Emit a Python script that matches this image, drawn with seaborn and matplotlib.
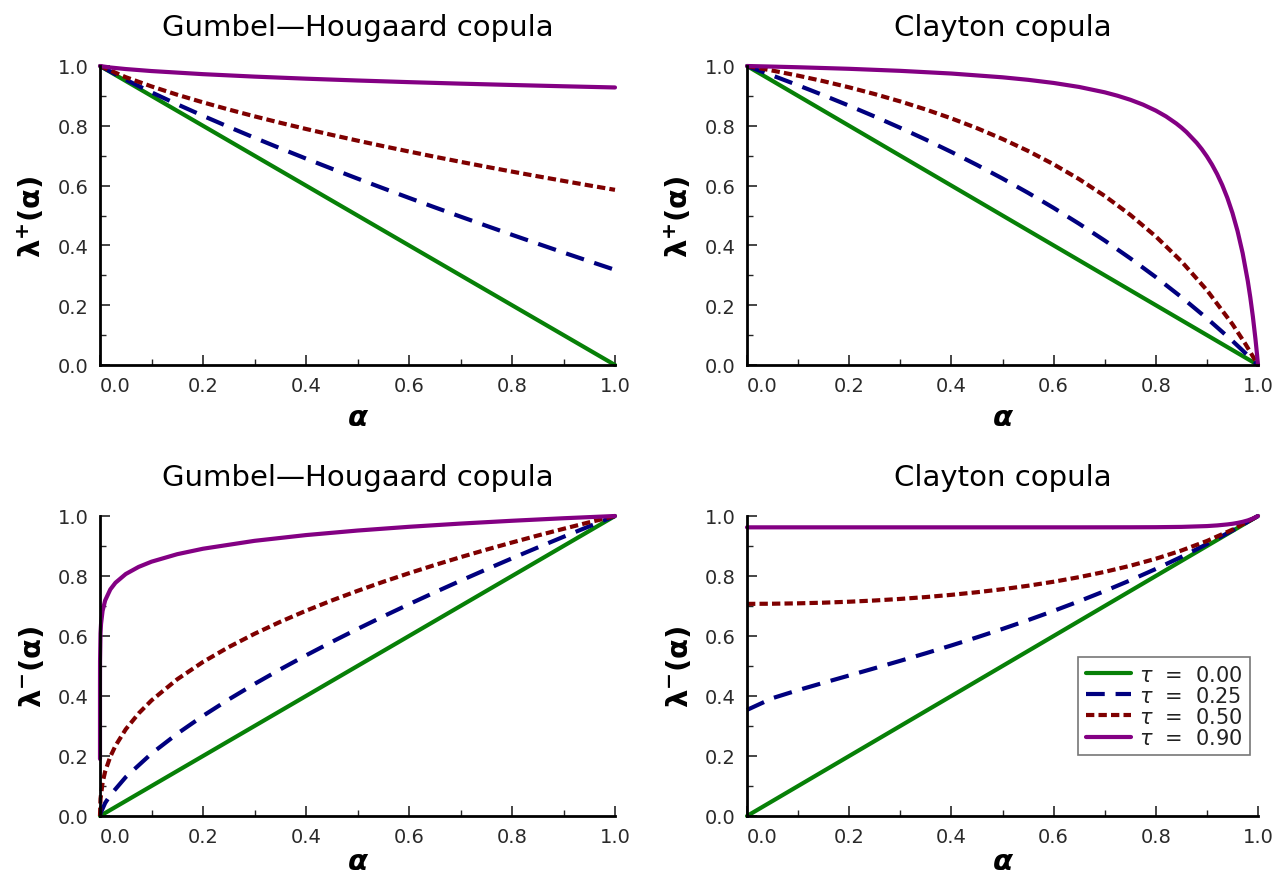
import matplotlib
matplotlib.use('Agg')
import matplotlib.pyplot as plt
import seaborn as sns

sns.set_style('ticks')
plt.rcParams['font.family'] = ['DejaVu Sans']
plt.rcParams['mathtext.fontset'] = 'dejavusans'

# ---------------- data ----------------
tau_labels = ['0.00', '0.25', '0.50', '0.90']
line_x = [0.0, 1.0]

# Gumbel-Hougaard, upper (top-left)
tl_x = [0.0, 0.05, 0.1, 0.15, 0.2, 0.25, 0.3, 0.35, 0.4, 0.45, 0.5,
        0.55, 0.6, 0.65, 0.7, 0.75, 0.8, 0.85, 0.9, 0.95, 1.0]
tl_t000 = [1.0, 0.0]
tl_t025 = [1.0, 0.9542, 0.9120, 0.8719, 0.8334, 0.7962, 0.7600, 0.7248, 0.6903, 0.6565, 0.6234,
           0.5910, 0.5589, 0.5273, 0.4963, 0.4657, 0.4354, 0.4057, 0.3761, 0.3470, 0.3182]
tl_t050 = [1.0, 0.9626, 0.9317, 0.9039, 0.8784, 0.8544, 0.8317, 0.8101, 0.7894, 0.7696, 0.7504,
           0.7319, 0.7140, 0.6965, 0.6795, 0.6630, 0.6468, 0.6311, 0.6157, 0.6006, 0.5858]
tl_x090 = [0.0, 0.02, 0.05, 0.1, 0.2, 0.3, 0.4, 0.5, 0.6, 0.7, 0.8, 0.9, 1.0]
tl_t090 = [1.0, 0.9950, 0.9898, 0.9831, 0.9727, 0.9645, 0.9576, 0.9515, 0.9460, 0.9410, 0.9365, 0.9322, 0.9282]

# Clayton, upper (top-right)
tr_x = tl_x
tr_t000 = [1.0, 0.0]
tr_t025 = [1.0, 0.9681, 0.9355, 0.9019, 0.8671, 0.8309, 0.7931, 0.7537, 0.7124, 0.6691, 0.6236,
           0.5758, 0.5254, 0.4723, 0.4162, 0.3568, 0.2940, 0.2272, 0.1562, 0.0806, 0.0]
tr_x050 = [0.0, 0.05, 0.1, 0.15, 0.2, 0.25, 0.3, 0.35, 0.4, 0.45, 0.5,
           0.55, 0.6, 0.65, 0.7, 0.75, 0.8, 0.85, 0.9, 0.95, 0.975, 1.0]
tr_t050 = [1.0, 0.9846, 0.9677, 0.9490, 0.9286, 0.9061, 0.8815, 0.8545, 0.8248, 0.7921, 0.7559,
           0.7159, 0.6713, 0.6215, 0.5655, 0.5022, 0.4300, 0.3469, 0.2503, 0.1365, 0.0714, 0.0]
tr_x090 = [0.0, 0.05, 0.1, 0.2, 0.3, 0.4, 0.5, 0.55, 0.6, 0.65, 0.7, 0.725, 0.75, 0.775,
           0.8, 0.82, 0.84, 0.85, 0.86, 0.88, 0.89, 0.9, 0.91, 0.92, 0.93, 0.94, 0.95,
           0.96, 0.97, 0.98, 0.985, 0.99, 0.995, 0.998, 0.999, 1.0]
tr_t090 = [1.0, 0.9980, 0.9958, 0.9906, 0.9838, 0.9748, 0.9622, 0.9538, 0.9433, 0.9299, 0.9120, 0.9006, 0.8871, 0.8708,
           0.8508, 0.8314, 0.8078, 0.7942, 0.7790, 0.7431, 0.7218, 0.6976, 0.6701, 0.6385, 0.6019, 0.5591, 0.5085,
           0.4478, 0.3737, 0.2810, 0.2252, 0.1613, 0.0872, 0.0367, 0.0184, 0.0]

# Gumbel-Hougaard, lower (bottom-left)
bl_t000 = [0.0, 1.0]
bl_x025 = [0.0, 0.001, 0.01, 0.02, 0.05, 0.1, 0.15, 0.2, 0.25, 0.3, 0.35, 0.4, 0.45, 0.5,
           0.55, 0.6, 0.65, 0.7, 0.75, 0.8, 0.85, 0.9, 0.95, 1.0]
bl_t025 = [0.0, 0.0090, 0.0433, 0.0695, 0.1297, 0.2081, 0.2743, 0.3338, 0.3886, 0.4401, 0.4888, 0.5354, 0.5802, 0.6234,
           0.6653, 0.7059, 0.7455, 0.7841, 0.8219, 0.8589, 0.8951, 0.9307, 0.9656, 1.0]
bl_x050 = [0.0, 0.001, 0.005, 0.01, 0.02, 0.03, 0.05, 0.075, 0.1, 0.15, 0.2, 0.25, 0.3, 0.35, 0.4,
           0.45, 0.5, 0.55, 0.6, 0.65, 0.7, 0.75, 0.8, 0.85, 0.9, 0.95, 1.0]
bl_t050 = [0.0, 0.0572, 0.1114, 0.1484, 0.1978, 0.2340, 0.2891, 0.3420, 0.3853, 0.4558, 0.5135, 0.5631, 0.6073, 0.6473, 0.6842,
           0.7184, 0.7504, 0.7807, 0.8093, 0.8366, 0.8627, 0.8877, 0.9117, 0.9349, 0.9573, 0.9790, 1.0]
bl_x090 = [0.0, 1e-6, 1e-5, 1e-4, 0.001, 0.002, 0.005, 0.01, 0.02, 0.03, 0.05, 0.075, 0.1, 0.15,
           0.2, 0.3, 0.4, 0.5, 0.6, 0.7, 0.8, 0.9, 1.0]
bl_t090 = [0.19, 0.3710, 0.4377, 0.5163, 0.6091, 0.6402, 0.6837, 0.7185, 0.7552, 0.7775, 0.8066, 0.8303, 0.8477, 0.8727,
           0.8909, 0.9172, 0.9364, 0.9515, 0.9640, 0.9747, 0.9841, 0.9925, 1.0]

# Clayton, lower (bottom-right)
br_x = tl_x
br_t000 = [0.0, 1.0]
br_t025 = [0.3536, 0.3929, 0.4195, 0.4442, 0.4684, 0.4927, 0.5173, 0.5425, 0.5685, 0.5955, 0.6236,
           0.6529, 0.6836, 0.7159, 0.7498, 0.7856, 0.8235, 0.8636, 0.9063, 0.9516, 1.0]
br_t050 = [0.7071, 0.7076, 0.7089, 0.7111, 0.7143, 0.7184, 0.7236, 0.7298, 0.7372, 0.7459, 0.7559,
           0.7675, 0.7809, 0.7962, 0.8138, 0.8341, 0.8575, 0.8848, 0.9167, 0.9545, 1.0]
br_x090 = [0.0, 0.5, 0.6, 0.65, 0.7, 0.75, 0.8, 0.85, 0.9, 0.92, 0.94, 0.95, 0.96, 0.97, 0.98, 0.99, 1.0]
br_t090 = [0.9622, 0.9622, 0.9622, 0.9622, 0.9623, 0.9624, 0.9627, 0.9637, 0.9664, 0.9686, 0.9719, 0.9741,
           0.9770, 0.9806, 0.9853, 0.9915, 1.0]

titles = ['Gumbel\u2014Hougaard copula', 'Clayton copula',
          'Gumbel\u2014Hougaard copula', 'Clayton copula']
ylabels = [r'$\mathbf{\lambda}^{\mathbf{+}}$(', r'$\mathbf{\lambda}^{\mathbf{+}}$(',
           r'$\mathbf{\lambda}^{\mathbf{-}}$(', r'$\mathbf{\lambda}^{\mathbf{-}}$(']
xlabel = '\u03b1'

# ---------------- styles ----------------
colors = ['#078007', '#00007f', '#7f0000', '#830083']
styles = ['-', (0, (4.5, 2.6)), (0, (2.0, 1.0)), '-']

panels = [
    [(line_x, tl_t000), (tl_x, tl_t025), (tl_x, tl_t050), (tl_x090, tl_t090)],
    [(line_x, tr_t000), (tr_x, tr_t025), (tr_x050, tr_t050), (tr_x090, tr_t090)],
    [(line_x, bl_t000), (bl_x025, bl_t025), (bl_x050, bl_t050), (bl_x090, bl_t090)],
    [(line_x, br_t000), (br_x, br_t025), (br_x, br_t050), (br_x090, br_t090)],
]

W, H = 1279, 879
fig = plt.figure(figsize=(W / 100, H / 100), dpi=100)

def rect(x0, x1, ytop, ybot):
    return [x0 / W, 1 - ybot / H, (x1 - x0) / W, (ybot - ytop) / H]

rects = [rect(100, 615, 67, 366), rect(747, 1258, 67, 366),
         rect(100, 615, 517, 817), rect(747, 1258, 517, 817)]

for i, (series, r) in enumerate(zip(panels, rects)):
    ax = fig.add_axes(r)
    for j, (xs, ys) in enumerate(series):
        sns.lineplot(x=xs, y=ys, ax=ax, color=colors[j], linewidth=3.0,
                     estimator=None, sort=False, legend=False)
        ln = ax.lines[-1]
        ln.set_linestyle(styles[j])
        ln.set_clip_on(False)
        ln.set_label(r'$\tau$  =  ' + tau_labels[j])
    ax.set_xlim(0, 1)
    ax.set_ylim(0, 1)
    sns.despine(ax=ax)
    for s in ['left', 'bottom']:
        ax.spines[s].set_linewidth(2.0)
        ax.spines[s].set_color('black')
    ax.set_xticks([0, 0.2, 0.4, 0.6, 0.8, 1.0])
    ax.set_xticklabels(['0.0', '0.2', '0.4', '0.6', '0.8', '1.0'])
    ax.set_yticks([0, 0.2, 0.4, 0.6, 0.8, 1.0])
    ax.set_yticklabels(['0.0', '0.2', '0.4', '0.6', '0.8', '1.0'])
    ax.set_xticks([0.1, 0.3, 0.5, 0.7, 0.9], minor=True)
    ax.set_yticks([0.1, 0.3, 0.5, 0.7, 0.9], minor=True)
    ax.tick_params(which='major', direction='in', length=7, width=1.2,
                   labelsize=14, labelcolor='#2a2a2a', pad=8)
    ax.tick_params(which='minor', direction='in', length=4, width=1.0)
    ax.get_xticklabels()[0].set_horizontalalignment('left')
    ax.set_title(titles[i], fontsize=21, pad=22, color='black')
    ax.set_ylabel(ylabels[i] + '\u03b1)', fontsize=21, fontweight='bold',
                  labelpad=8, color='black')
    ax.set_xlabel(xlabel, fontsize=21, fontweight='bold', fontstyle='italic',
                  labelpad=6 if i < 2 else 1, color='black')
    ax.set_facecolor('white')
    if i == 3:
        leg = ax.legend(loc='lower right', bbox_to_anchor=(0.984, 0.203),
                        borderaxespad=0, fontsize=15, frameon=True, fancybox=False,
                        handlelength=2.15, handletextpad=0.4,
                        borderpad=0.35, labelspacing=0.05)
        leg.get_frame().set_edgecolor('#555555')
        leg.get_frame().set_linewidth(1.2)
        for t in leg.get_texts():
            t.set_color('#222222')

fig.savefig('out.png', dpi=100, facecolor='white')
